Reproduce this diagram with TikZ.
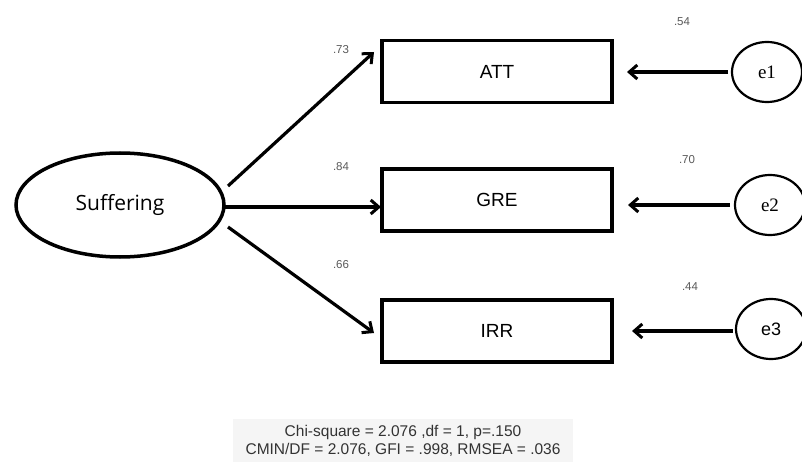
\documentclass[tikz,border=0pt]{standalone}
\usepackage{fontspec}
\setmainfont{Liberation Sans}
\newfontfamily\eserif{Liberation Serif}
\newfontfamily\opensans{Open Sans}
\usetikzlibrary{shapes.geometric,arrows.meta}
\begin{document}
\begin{tikzpicture}[x=1pt,y=-1pt,
  obsbox/.style={draw,line width=3.5pt,minimum width=230pt,minimum height=62pt,inner sep=0pt,font=\fontsize{19}{21}\selectfont},
  latent/.style={draw,ellipse,line width=3.5pt,minimum width=208pt,minimum height=104pt,inner sep=0pt,font=\opensans\fontsize{21}{24}\selectfont},
  errnode/.style={draw,ellipse,line width=2.2pt,minimum width=70pt,minimum height=60pt,inner sep=0pt,font=\eserif\fontsize{19}{21}\selectfont},
  path/.style={line width=3.2pt,-{Straight Barb[length=8pt,width=14pt,line width=3pt]}},
  coef/.style={font=\fontsize{11.5}{13}\selectfont,text=black!65},
]
\useasboundingbox (0,0) rectangle (802,462);
\node[latent] (suf) at (120,205) {Suffering};
\node[obsbox] (att) at (497,71.5) {ATT};
\node[obsbox] (gre) at (497,200) {GRE};
\node[obsbox] (irr) at (497,331) {IRR};
\node[errnode] (e1) at (767,72) {e1};
\node[errnode] (e2) at (770,205) {e2};
\node[errnode,font=\fontsize{18}{20}\selectfont] (e3) at (771,329) {e3};
\coordinate (a1) at (228,186);
\coordinate (a2) at (225,207);
\coordinate (a3) at (228,227);
\coordinate (t1) at (374,52);
\coordinate (t2) at (381,207);
\coordinate (t3) at (374,333);
\draw[path] (a1) -- (t1);
\draw[path] (a2) -- (t2);
\draw[path] (a3) -- (t3);
\coordinate (s1) at (728,72);
\coordinate (s2) at (730,205);
\coordinate (s3) at (733,331);
\coordinate (r1) at (627,72);
\coordinate (r2) at (628,205);
\coordinate (r3) at (632,331);
\draw[path] (s1) -- (r1);
\draw[path] (s2) -- (r2);
\draw[path] (s3) -- (r3);
\node[coef] (c1) at (341,50) {.73};
\node[coef] (c2) at (341,167) {.84};
\node[coef] (c3) at (341,265) {.66};
\node[coef] (c4) at (682,22) {.54};
\node[coef] (c5) at (687,160) {.70};
\node[coef] (c6) at (690,287) {.44};
\node[fill=black!4,minimum width=340pt,minimum height=44pt,inner sep=0pt,align=center,text=black!80,font=\fontsize{15.5}{17.5}\selectfont] (fit) at (403,441) {Chi-square = 2.076 ,df = 1, p=.150\\CMIN/DF = 2.076, GFI = .998, RMSEA = .036};
\end{tikzpicture}
\end{document}
